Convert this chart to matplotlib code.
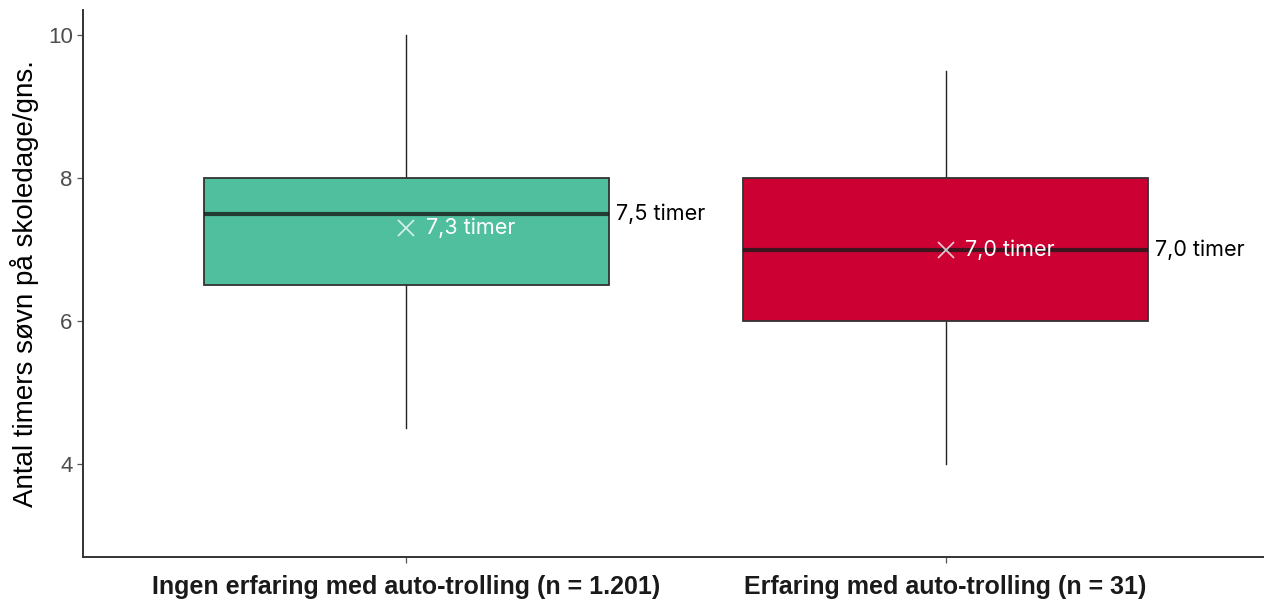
"""Sleep hours on school days by auto-trolling experience (box plot)."""
import matplotlib
matplotlib.use("Agg")
import matplotlib.pyplot as plt

# data
groups = ["Ingen erfaring med auto-trolling (n = 1.201)",
          "Erfaring med auto-trolling (n = 31)"]
whislo = [4.5, 4.0]
q1 = [6.5, 6.0]
med = [7.5, 7.0]
q3 = [8.0, 8.0]
whishi = [10.0, 9.5]
means = [7.3, 7.0]
mean_labels = ["7,3 timer", "7,0 timer"]
median_labels = ["7,5 timer", "7,0 timer"]
colors = ["#4FBF9E", "#CC0033"]
yticks = [4, 6, 8, 10]

stats = [dict(whislo=whislo[i], q1=q1[i], med=med[i], q3=q3[i],
              whishi=whishi[i], fliers=[], label=groups[i])
         for i in range(len(groups))]

fig = plt.figure(figsize=(12.64, 6.03), dpi=100)
ax = fig.add_axes([0.0657, 0.0763, 0.934, 0.907])

pos = [1, 2]
width = 0.75
bp = ax.bxp(stats, positions=pos, widths=width, patch_artist=True,
            showcaps=False, showfliers=False,
            boxprops=dict(edgecolor="#333333", linewidth=1.3),
            medianprops=dict(color="#1A1A1A", linewidth=3, alpha=0.8),
            whiskerprops=dict(color="#222222", linewidth=1.0))
for patch, c in zip(bp["boxes"], colors):
    patch.set_facecolor(c)
    patch.set_zorder(2)
for w in bp["whiskers"]:
    w.set_zorder(1)

ax.plot(pos, means, linestyle="none", marker="x", markersize=12,
        markeredgewidth=1.3, color="white", alpha=0.75, zorder=4)

text_font = ["Inter", "DejaVu Sans"]
for p, m, lab in zip(pos, means, mean_labels):
    ax.annotate(lab, (p, m), xytext=(14, 0), textcoords="offset points",
                va="center", ha="left", color="white", fontsize=15.5,
                family=text_font, zorder=5)
for p, md, lab in zip(pos, med, median_labels):
    ax.annotate(lab, (p + width / 2, md), xytext=(5, 0),
                textcoords="offset points", va="center", ha="left",
                color="black", fontsize=15.5, family=text_font, zorder=5)

ax.set_xlim(0.4, 2.59)
ax.set_ylim(2.7, 10.35)
ax.set_yticks(yticks)
ax.set_xticks(pos)
ax.set_xticklabels(groups, fontsize=18, fontweight="bold", color="#1A1A1A",
                   family="Liberation Sans")
for t in ax.get_yticklabels():
    t.set_fontsize(16)
    t.set_color("#4D4D4D")
    t.set_family("Liberation Sans")
ax.set_ylabel("Antal timers søvn på skoledage/gns.", fontsize=20,
              family="Liberation Sans", color="black", labelpad=6)

for s in ["top", "right"]:
    ax.spines[s].set_visible(False)
for s in ["left", "bottom"]:
    ax.spines[s].set_color("#333333")
    ax.spines[s].set_linewidth(1.4)
ax.tick_params(axis="both", length=4, width=0.9, color="#555555")
ax.tick_params(axis="x", pad=9)

fig.savefig("out.png", dpi=100)
